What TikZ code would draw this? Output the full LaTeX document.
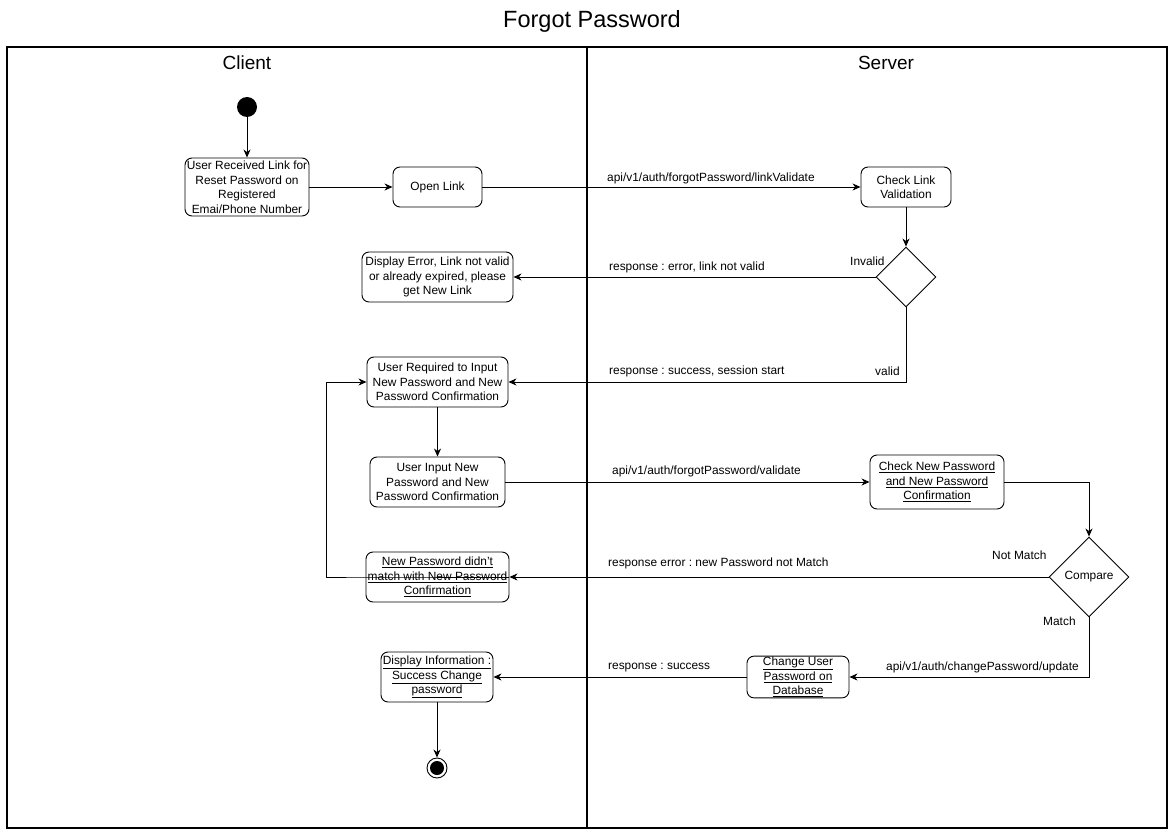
\documentclass[tikz,border=0pt]{standalone}
\usepackage{fontspec}
\setmainfont{Liberation Sans}
\usetikzlibrary{arrows.meta,shapes.geometric}
\frenchspacing
\begin{document}
\begin{tikzpicture}[x=1pt,y=-1pt,
  box/.style={draw, line width=0.9pt, rounded corners=7pt, fill=white, align=center,
    inner sep=1pt, font=\fontsize{11.9}{14.5}\selectfont},
  dec/.style={draw, diamond, line width=0.9pt, fill=white, inner sep=0pt, align=center,
    font=\fontsize{11.9}{14}\selectfont},
  lbl/.style={inner sep=0pt, anchor=west, font=\fontsize{11.9}{14}\selectfont},
  arr/.style={line width=0.9pt, -{Stealth[length=8pt,width=7pt,inset=2.5pt]}},
  ln/.style={line width=0.9pt}]
\useasboundingbox (0,0) rectangle (1175,837);
% frame and lanes
\draw[line width=1.1pt] (7,47) rectangle (1167,828);
\draw[line width=1.1pt] (587,47) -- (587,828);
\node[font=\fontsize{23.5}{25}\selectfont] (title) at (592,21) {Forgot Password};
\node[font=\fontsize{19}{20}\selectfont] (client) at (247,63) {Client};
\node[font=\fontsize{19}{20}\selectfont] (server) at (886,63) {Server};
% nodes
\node[circle, fill=black, minimum size=20pt, inner sep=0pt] (start) at (247,107) {};
\node[box, minimum width=124pt, minimum height=58pt] (recv) at (247,187)
  {User Received Link for\\Reset Password on\\Registered\\Emai/Phone Number};
\node[box, minimum width=89pt, minimum height=40pt] (open) at (437.5,187) {Open Link};
\node[box, minimum width=90pt, minimum height=40pt] (chk) at (906,187) {Check Link\\Validation};
\node[dec, minimum width=60pt, minimum height=60pt] (d1) at (906,277) {};
\node[box, minimum width=151pt, minimum height=50pt] (err) at (437.5,277)
  {Display Error, Link not valid\\or already expired, please\\get New Link};
\node[box, minimum width=141pt, minimum height=50pt] (req) at (437.5,382)
  {User Required to Input\\New Password and New\\Password Confirmation};
\node[box, minimum width=135pt, minimum height=50pt] (inp) at (437.5,482)
  {User Input New\\Password and New\\Password Confirmation};
\node[box, minimum width=134pt, minimum height=54pt] (chk2) at (937,482)
  {\underline{Check New Password}\\\underline{and New Password}\\\underline{Confirmation}};
\node[dec, minimum width=80pt, minimum height=80pt] (cmp) at (1089,577) {Compare};
\node[box, minimum width=143pt, minimum height=50pt] (nm) at (437.5,577)
  {\underline{New Password didn't}\\\underline{match with New Password}\\\underline{Confirmation}};
\node[box, minimum width=102pt, minimum height=40pt] (chg) at (798,677)
  {\underline{Change User}\\\underline{Password on}\\\underline{Database}};
\node[box, minimum width=112pt, minimum height=50pt] (info) at (437,677)
  {\underline{Display Information :}\\\underline{Success Change}\\\underline{password}};
\node[circle, draw, line width=0.9pt, minimum size=20pt, inner sep=0pt] (end) at (437,768) {};
\node[circle, fill=black, minimum size=14pt, inner sep=0pt] (endin) at (end.center) {};
% connectors
\draw[arr] (start) -- (recv);
\draw[arr] (recv) -- (open);
\draw[arr] (open) -- (chk);
\draw[arr] (chk) -- (d1);
\draw[arr] (d1.west) -- (err);
\draw[arr] (d1.south) |- (req.east);
\draw[arr] (req) -- (inp);
\draw[arr] (inp) -- (chk2);
\draw[arr] (chk2.east) -| (cmp.north);
\draw[arr] (cmp.west) -- (nm.east);
\draw[arr] (nm.east) -- (nm.west) -- ++(-39,0) |- (req.west);
\draw[arr] (cmp.south) |- (chg.east);
\draw[arr] (chg) -- (info);
\draw[arr] (info) -- (end);
% labels
\node[lbl] (l1) at (607,178) {api/v1/auth/forgotPassword/linkValidate};
\node[lbl] (l2) at (609,267) {response : error, link not valid};
\node[lbl] (l3) at (850,261) {Invalid};
\node[lbl] (l4) at (609,371) {response : success, session start};
\node[lbl] (l5) at (875,371) {valid};
\node[lbl] (l6) at (612,471) {api/v1/auth/forgotPassword/validate};
\node[lbl] (l7) at (608,563) {response error : new Password not Match};
\node[lbl] (l8) at (992,555) {Not Match};
\node[lbl] (l9) at (1043,621) {Match};
\node[lbl] (l10) at (886,667) {api/v1/auth/changePassword/update};
\node[lbl] (l11) at (608,668) {response : success};
\end{tikzpicture}
\end{document}
